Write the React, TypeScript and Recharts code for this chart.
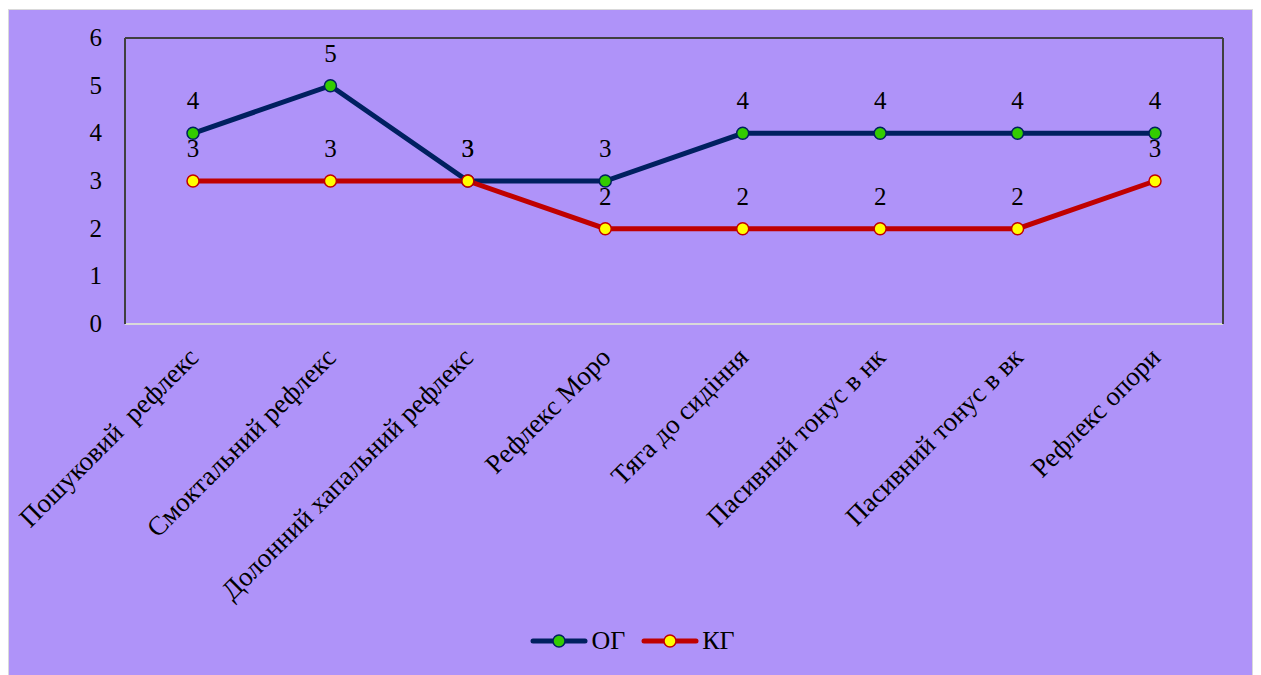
import { LineChart, Line, XAxis, YAxis, CartesianGrid, ReferenceLine } from "recharts";

const categories = [
  "Пошуковий\u00A0 рефлекс",
  "Смоктальний рефлекс",
  "Долонний хапальний рефлекс",
  "Рефлекс Моро",
  "Тяга до сидіння",
  "Пасивний тонус в нк",
  "Пасивний тонус в вк",
  "Рефлекс опори",
];
const ogValues = [4, 5, 3, 3, 4, 4, 4, 4];
const kgValues = [3, 3, 3, 2, 2, 2, 2, 3];
const yTicks = [0, 1, 2, 3, 4, 5, 6];

const data = categories.map((name, i) => ({ name, og: ogValues[i], kg: kgValues[i] }));

const FONT = '"Liberation Serif", "Times New Roman", serif';
const PURPLE = "#AF93F9";
const NAVY = "#002060";
const RED = "#C00000";

// category names run diagonally, ending just under each point
function AngledTick({ x, y, payload }: any) {
  const ax = x + 7;
  const ay = y + 27;
  return (
    <text
      x={ax}
      y={ay}
      transform={`rotate(-45, ${ax}, ${ay})`}
      textAnchor="end"
      fontFamily={FONT}
      fontSize={27}
      fill="#000"
    >
      {payload.value}
    </text>
  );
}

function ValueTick({ x, y, payload }: any) {
  return (
    <text x={x} y={y} dy={8} textAnchor="end" fontFamily={FONT} fontSize={25} fill="#000">
      {payload.value}
    </text>
  );
}

function PointLabel({ x, y, value }: any) {
  return (
    <text x={x} y={y - 24} textAnchor="middle" fontFamily={FONT} fontSize={25} fill="#000">
      {value}
    </text>
  );
}

function LegendItem({ label, stroke, fill }: { label: string; stroke: string; fill: string }) {
  return (
    <div style={{ display: "flex", alignItems: "center", gap: 3 }}>
      <svg width={58} height={16}>
        <line x1={3} y1={8} x2={55} y2={8} stroke={stroke} strokeWidth={5} strokeLinecap="round" />
        <circle cx={29} cy={8} r={6} fill={fill} stroke={stroke} strokeWidth={1.5} />
      </svg>
      <span style={{ fontFamily: FONT, fontSize: 26, color: "#000", lineHeight: "30px" }}>{label}</span>
    </div>
  );
}

export default function App() {
  return (
    <div
      style={{
        position: "relative",
        marginTop: 1,
        width: 1243,
        height: 666,
        border: "1px solid #D9D9D9",
        background: PURPLE,
      }}
    >
      <LineChart width={1243} height={666} data={data} margin={{ top: 28, right: 0, left: 0, bottom: 0 }}>
        <CartesianGrid horizontal vertical={false} stroke="#FFFFFF" strokeWidth={2} />
        <XAxis
          dataKey="name"
          height={352}
          padding={{ left: 68, right: 68 }}
          axisLine={{ stroke: "#D9D9D9", strokeWidth: 2 }}
          tickLine={false}
          interval={0}
          tick={<AngledTick />}
        />
        <YAxis
          yAxisId="l"
          width={116}
          domain={[0, 6]}
          ticks={yTicks}
          axisLine={{ stroke: "#404040", strokeWidth: 2 }}
          tickLine={false}
          tickSize={0}
          tickMargin={23}
          tick={<ValueTick />}
        />
        <YAxis
          yAxisId="r"
          orientation="right"
          width={29}
          domain={[0, 6]}
          ticks={yTicks}
          axisLine={{ stroke: "#404040", strokeWidth: 2 }}
          tickLine={false}
          tick={false}
        />
        <ReferenceLine yAxisId="l" y={6} stroke="#404040" strokeWidth={2} />
        <Line
          yAxisId="l"
          type="linear"
          dataKey="og"
          name="ОГ"
          stroke={NAVY}
          strokeWidth={5}
          dot={{ r: 6, fill: "#33CC00", stroke: NAVY, strokeWidth: 1.5 }}
          activeDot={false}
          label={<PointLabel />}
          isAnimationActive={false}
        />
        <Line
          yAxisId="l"
          type="linear"
          dataKey="kg"
          name="КГ"
          stroke={RED}
          strokeWidth={5}
          dot={{ r: 6, fill: "#FFFF00", stroke: RED, strokeWidth: 1.5 }}
          activeDot={false}
          label={<PointLabel />}
          isAnimationActive={false}
        />
      </LineChart>
      <div
        style={{
          position: "absolute",
          left: 0,
          right: 0,
          top: 616,
          display: "flex",
          justifyContent: "center",
          gap: 16,
          paddingLeft: 4,
        }}
      >
        <LegendItem label="ОГ" stroke={NAVY} fill="#33CC00" />
        <LegendItem label="КГ" stroke={RED} fill="#FFFF00" />
      </div>
    </div>
  );
}
